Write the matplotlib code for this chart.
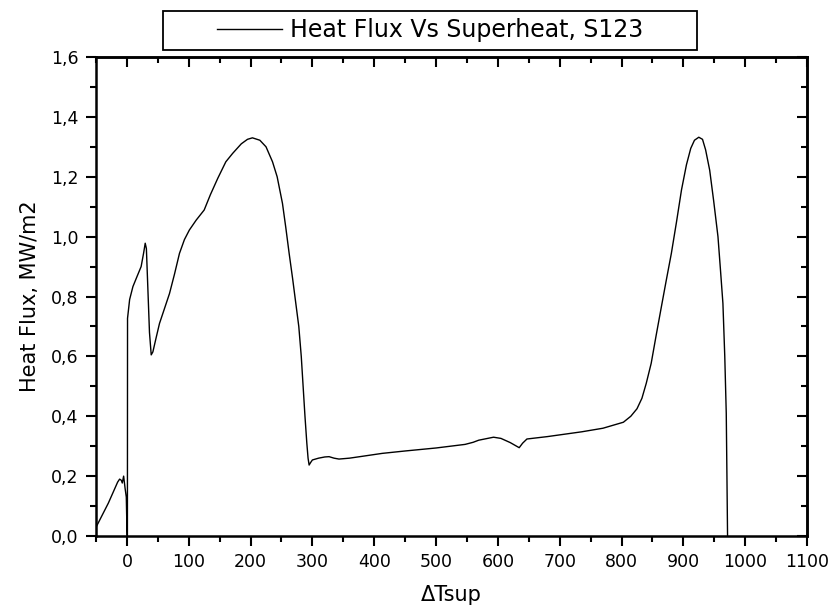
import matplotlib
matplotlib.use('Agg')
import matplotlib.pyplot as plt
from matplotlib.ticker import MultipleLocator, FuncFormatter
from matplotlib.patches import Rectangle

# heat flux curve (superheat, MW/m2)
dT = [-49.5, -30, -15, -11.8, -9, -7.5, -5.3, -3, -1, 0.3, 0.8, 1.0,
      4.4, 9.7, 16, 23, 27, 29.6, 31.5, 34, 36.5, 39.3, 42, 47, 52.7, 60,
      68.9, 77, 85, 93, 101, 112, 125, 135, 147, 160, 171, 185, 195, 203,
      215, 225, 235.5, 243, 251.6, 257, 262.4, 268, 273, 278, 282, 285,
      288, 291, 293, 294.7, 297, 300, 310, 320, 327, 335, 343, 360, 380,
      413, 450, 500, 547, 560, 569, 593, 605, 620, 634.5, 640, 647, 680,
      735.5, 770, 803, 815, 825, 833, 840, 848, 856, 864.5, 872, 880.6,
      889, 897, 905, 912, 918, 925, 931, 936, 942.6, 949, 956, 960, 964,
      967, 969.4, 970.5, 971.5]
flux = [0.031, 0.11, 0.18, 0.19, 0.186, 0.177, 0.2, 0.16, 0.13, 0.0, 0.0, 0.727,
        0.79, 0.833, 0.865, 0.90, 0.945, 0.978, 0.96, 0.82, 0.68, 0.605, 0.615, 0.66, 0.71, 0.755,
        0.81, 0.875, 0.944, 0.99, 1.022, 1.055, 1.089, 1.14, 1.195, 1.25, 1.278, 1.31, 1.325, 1.330,
        1.322, 1.30, 1.25, 1.2, 1.111, 1.03, 0.944, 0.86, 0.78, 0.70, 0.60, 0.50,
        0.40, 0.31, 0.26, 0.237, 0.245, 0.254, 0.26, 0.264, 0.265, 0.26, 0.257, 0.26, 0.266,
        0.276, 0.284, 0.294, 0.306, 0.313, 0.32, 0.33, 0.326, 0.312, 0.295, 0.31, 0.324, 0.332,
        0.348, 0.36, 0.38, 0.40, 0.425, 0.46, 0.51, 0.577, 0.67, 0.766, 0.85, 0.944,
        1.05, 1.156, 1.24, 1.295, 1.322, 1.332, 1.325, 1.29, 1.222, 1.12, 1.0, 0.89, 0.777,
        0.6, 0.41, 0.2, 0.0]

label = "Heat Flux Vs Superheat, S123"

fig = plt.figure(figsize=(8.35, 6.13), dpi=100)
ax = fig.add_axes([96/835, 1-536/613, (807-96)/835, (536-57)/613])

ax.plot(dT, flux, color='black', lw=1.0, label=label)

ax.set_xlim(-50, 1100)
ax.set_ylim(0, 1.6)
ax.xaxis.set_major_locator(MultipleLocator(100))
ax.xaxis.set_minor_locator(MultipleLocator(50))
ax.yaxis.set_major_locator(MultipleLocator(0.2))
ax.yaxis.set_minor_locator(MultipleLocator(0.1))
ax.yaxis.set_major_formatter(FuncFormatter(lambda v, p: ("%.1f" % v).replace('.', ',')))

for s in ax.spines.values():
    s.set_linewidth(1.8)
ax.tick_params(which='both', direction='out', width=1.5, labelsize=12.5, pad=5)
ax.tick_params(which='major', length=7.5)
ax.tick_params(which='minor', length=4)

# top and right ticks point inward, no labels
top = ax.secondary_xaxis('top')
top.xaxis.set_major_locator(MultipleLocator(100))
top.xaxis.set_minor_locator(MultipleLocator(50))
top.tick_params(which='both', direction='in', width=1.5, labeltop=False)
top.tick_params(which='major', length=7.5)
top.tick_params(which='minor', length=4)
right = ax.secondary_yaxis('right')
right.yaxis.set_major_locator(MultipleLocator(0.2))
right.yaxis.set_minor_locator(MultipleLocator(0.1))
right.tick_params(which='both', direction='in', width=1.5, labelright=False)
right.tick_params(which='major', length=7.5)
right.tick_params(which='minor', length=4)
top.spines['top'].set_linewidth(1.8)
right.spines['right'].set_linewidth(1.8)

ax.set_xlabel("\u0394Tsup", fontsize=15, labelpad=10)
ax.set_ylabel("Heat Flux, MW/m2", fontsize=15, labelpad=8)

# legend above the plot, with a wide hand-drawn frame like the original
fig.legend(loc='center left', bbox_to_anchor=(217/835, 1-30/613), frameon=False,
           fontsize=17, handlelength=2.75, handletextpad=0.35, borderpad=0,
           borderaxespad=0)
fig.patches.append(Rectangle((163/835, 1-50/613), (697-163)/835, 39/613,
                             transform=fig.transFigure, fill=False, lw=1.3,
                             edgecolor='black'))

fig.savefig("out.png", dpi=100)
